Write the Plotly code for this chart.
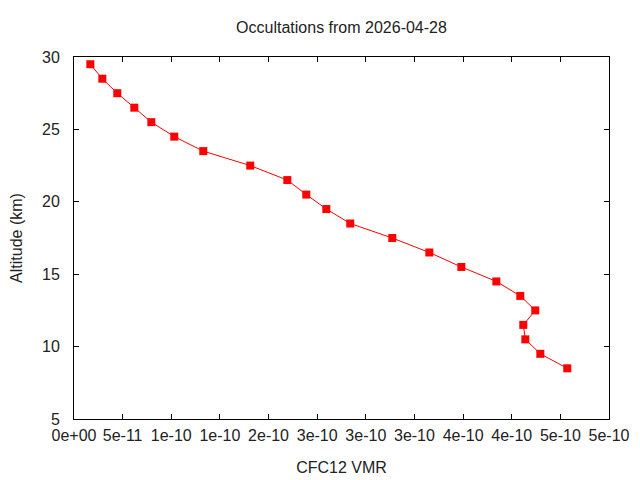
import plotly.graph_objects as go

# CFC12 volume mixing ratio profile
altitude_km = [29.5, 28.5, 27.5, 26.5, 25.5, 24.5, 23.5, 22.5, 21.5, 20.5, 19.5,
               18.5, 17.5, 16.5, 15.5, 14.5, 13.5, 12.5, 11.5, 10.5, 9.5, 8.5]
cfc12_vmr = [1.68e-11, 2.91e-11, 4.45e-11, 6.20e-11, 7.95e-11, 1.031e-10,
             1.329e-10, 1.812e-10, 2.193e-10, 2.388e-10, 2.594e-10, 2.840e-10,
             3.272e-10, 3.653e-10, 3.982e-10, 4.342e-10, 4.588e-10, 4.742e-10,
             4.619e-10, 4.640e-10, 4.794e-10, 5.071e-10]

x_tickvals = [0, 0.5e-10, 1.0e-10, 1.5e-10, 2.0e-10, 2.5e-10, 3.0e-10,
              3.5e-10, 4.0e-10, 4.5e-10, 5.0e-10, 5.5e-10]
x_ticktext = ["0e+00", "5e-11", "1e-10", "1e-10", "2e-10", "3e-10", "3e-10",
              "3e-10", "4e-10", "4e-10", "5e-10", "5e-10"]
y_tickvals = [5, 10, 15, 20, 25, 30]

font = dict(family="Liberation Sans, Arial, sans-serif", size=16, color="#222222")

# the page body has an 8px margin, so the figure is 8px smaller each way
W, H = 632, 472

fig = go.Figure()
fig.add_trace(go.Scatter(
    x=cfc12_vmr,
    y=altitude_km,
    mode="lines+markers",
    line=dict(color="#ff0000", width=1),
    marker=dict(symbol="square", size=8, color="#ff0000"),
    showlegend=False
))

axis_common = dict(
    showgrid=False,
    zeroline=False,
    showline=True,
    linecolor="black",
    linewidth=1,
    mirror="allticks",
    ticks="inside",
    ticklen=5,
    tickcolor="black",
    tickfont=font,
    automargin=False,
)

fig.update_layout(
    width=W,
    height=H,
    paper_bgcolor="white",
    plot_bgcolor="white",
    margin=dict(l=66, r=31, t=49, b=61),
    font=font,
    title=dict(
        text="Occultations from 2026-04-28",
        font=font,
        x=0.5, xref="paper", xanchor="center",
        y=1 - 19.5 / H, yref="container", yanchor="middle",
        automargin=False,
    ),
    xaxis=dict(
        axis_common,
        range=[0, 5.5e-10],
        tickvals=x_tickvals,
        ticktext=x_ticktext,
        ticklabelstandoff=2,
        title=dict(text="CFC12 VMR", font=font, standoff=18),
    ),
    yaxis=dict(
        axis_common,
        range=[5, 30],
        tickvals=y_tickvals,
        ticklabelstandoff=10,
        title=dict(text="Altitude (km)", font=font, standoff=18),
    ),
)

fig.write_html("out.html")
